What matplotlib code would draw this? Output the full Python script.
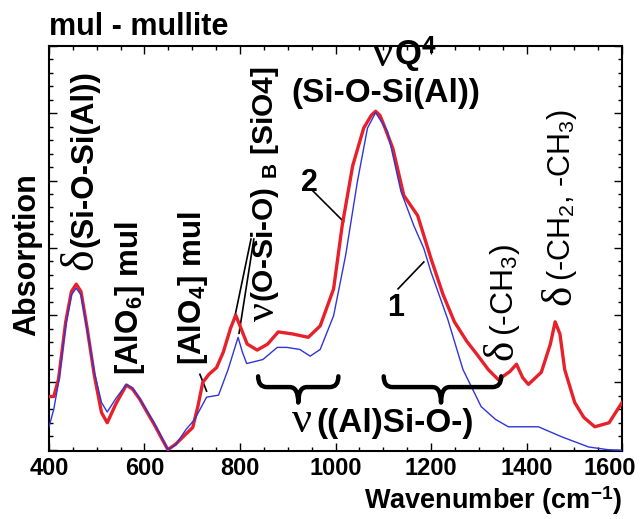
import numpy as np
import matplotlib
matplotlib.use("Agg")
import matplotlib.pyplot as plt
import matplotlib.transforms as mtransforms
from matplotlib.path import Path
from matplotlib.patches import PathPatch
from matplotlib.ticker import MultipleLocator, NullFormatter

plt.rcParams['font.family'] = ['Liberation Sans', 'DejaVu Sans']
plt.rcParams['mathtext.fontset'] = 'custom'
plt.rcParams['mathtext.rm'] = 'Liberation Sans:bold'
plt.rcParams['mathtext.bf'] = 'Liberation Sans:bold'
plt.rcParams['mathtext.it'] = 'Liberation Serif'
plt.rcParams['mathtext.sf'] = 'Liberation Sans'

# ---- data (wavenumber, absorption, arbitrary units) ----
wn_red = [400, 410, 420, 435, 447, 457, 467, 480, 495, 510, 522, 540, 562, 575, 590,
          606, 620, 635, 649, 665, 685, 701, 712, 722, 735, 751, 765, 780, 791, 800,
          815, 836, 858, 880, 910, 943, 968, 996, 1014, 1036, 1059, 1075, 1084, 1093, 1100, 1120,
          1143, 1172, 1200, 1225, 1249, 1275, 1299, 1320, 1341, 1365, 1379, 1392, 1404,
          1431, 1450, 1460, 1470, 1480, 1501, 1520, 1543, 1573, 1600]
abs_red = [0.79, 0.79, 1.05, 1.90, 2.35, 2.46, 2.35, 1.80, 1.10, 0.55, 0.40, 0.68, 0.96, 0.90, 0.75,
           0.55, 0.38, 0.18, 0.00, 0.08, 0.22, 0.33, 0.65, 1.00, 1.12, 1.22, 1.45, 1.80, 2.00, 1.84,
           1.57, 1.48, 1.57, 1.75, 1.72, 1.67, 1.84, 2.39, 3.33, 4.22, 4.78, 4.97, 5.03, 4.97, 4.85, 4.48,
           3.78, 3.48, 2.84, 2.31, 1.90, 1.61, 1.39, 1.19, 1.04, 1.16, 1.27, 1.07, 0.97,
           1.15, 1.57, 1.90, 1.72, 1.19, 0.70, 0.48, 0.34, 0.40, 0.70]

wn_blue = [400, 410, 420, 435, 447, 457, 467, 480, 495, 510, 522, 540, 562, 575, 590,
           606, 620, 635, 649, 665, 687, 705, 730, 755, 775, 796, 805, 814, 848, 878,
           898, 925, 947, 968, 996, 1021, 1046, 1067, 1084, 1109, 1137, 1164, 1185, 1200,
           1235, 1267, 1305, 1335, 1362, 1425, 1474, 1530, 1570, 1600]
abs_blue = [0.34, 0.60, 1.00, 1.85, 2.30, 2.40, 2.30, 1.78, 1.15, 0.70, 0.56, 0.76, 0.97, 0.92, 0.76,
            0.57, 0.40, 0.20, 0.00, 0.07, 0.30, 0.45, 0.78, 0.81, 1.19, 1.67, 1.45, 1.28, 1.34, 1.52,
            1.52, 1.49, 1.39, 1.49, 1.99, 2.88, 3.99, 4.78, 5.01, 4.73, 3.84, 3.33, 2.99, 2.64,
            1.94, 1.19, 0.64, 0.45, 0.34, 0.34, 0.19, 0.04, 0.00, -0.01]

x_ticks = [400, 600, 800, 1000, 1200, 1400, 1600]
RED = '#e8202a'
BLUE = '#2f35d8'

fig = plt.figure(figsize=(6.4, 5.19), dpi=100)
ax = fig.add_axes([49/640, 1-451/519, 573/640, 405/519])

ax.plot(wn_red, abs_red, color=RED, lw=2.4, solid_joinstyle='round', zorder=3)
ax.plot(wn_blue, abs_blue, color=BLUE, lw=1.0, zorder=4)

ax.set_xlim(400, 1600)
ax.set_ylim(-0.02, 6.0)
ax.set_xticks(x_ticks)
ax.set_xticklabels([str(t) for t in x_ticks], fontsize=17, fontweight='bold')
ax.xaxis.set_minor_locator(MultipleLocator(50))
ax.yaxis.set_major_locator(MultipleLocator(1))
ax.yaxis.set_minor_locator(MultipleLocator(0.2))
ax.yaxis.set_major_formatter(NullFormatter())
ax.tick_params(which='both', direction='in', top=True, right=True, width=1.0)
ax.tick_params(which='major', length=6, pad=4)
ax.tick_params(which='minor', length=3)
for s in ax.spines.values():
    s.set_linewidth(1.5)
# last tick label sits a little inside the figure edge
last = ax.get_xticklabels()[-1]
last.set_transform(last.get_transform() +
                   mtransforms.ScaledTranslation(-12/100, 0, fig.dpi_scale_trans))

ax.set_ylabel('Absorption', fontsize=22, fontweight='bold')
ax.yaxis.set_label_coords(-0.011, 0.484)
ax.text(1.0, -0.142, r'Wavenumber (cm$^{\mathbf{-1}}$)', transform=ax.transAxes,
        ha='right', va='baseline', fontsize=19.5, fontweight='bold')
ax.text(0.0, 1.027, 'mul - mullite', transform=ax.transAxes, ha='left', va='baseline',
        fontsize=22, fontweight='bold')

renderer = fig.canvas.get_renderer()


def rot_label(x, y, sym, rest, sym_size, rest_size, weight, gap=2, dx=0):
    t = ax.text(x, y, sym, rotation=90, ha='center', va='bottom', fontsize=sym_size,
                family='Liberation Serif')
    h = t.get_window_extent(renderer).height
    ax.annotate(rest, xy=(x, y), xytext=(dx, h + gap), textcoords='offset pixels',
                rotation=90, ha='center', va='bottom', fontsize=rest_size, fontweight=weight)


# rotated band labels
rot_label(467, 2.67, 'δ', '(Si-O-Si(Al))', 33, 22.5, 'bold', gap=1, dx=4)
ax.text(570, 1.11, r'[AlO$_\mathbf{6}$] mul', rotation=90, ha='center', va='bottom',
        fontsize=22.5, fontweight='bold')
ax.text(702, 1.26, r'[AlO$_\mathbf{4}$] mul', rotation=90, ha='center', va='bottom',
        fontsize=22.5, fontweight='bold')
rot_label(849, 1.91, 'ν', r'(O-Si-O) $_\mathbf{B}$ [SiO4]', 30, 21.5, 'bold', gap=0, dx=2)
rot_label(1350, 1.33, 'δ', r'(-CH$_{\mathsf{3}}$)', 31, 23, 'normal', gap=4, dx=2)
rot_label(1470, 2.15, 'δ', r'(-CH$_{\mathsf{2}}$, -CH$_{\mathsf{3}}$)', 31, 22, 'normal',
          gap=4, dx=2)

# top peak labels
ax.text(1122, 5.70, 'ν', ha='right', va='baseline', fontsize=34, family='Liberation Serif')
ax.text(1122, 5.70, r'Q$^{\mathbf{4}}$', ha='left', va='baseline', fontsize=25,
        fontweight='bold')
ax.text(1105, 5.30, '(Si-O-Si(Al))', ha='center', va='center', fontsize=24,
        fontweight='bold')

# curve numbers with leader lines
ax.text(946, 3.97, '2', ha='center', va='center', fontsize=22, fontweight='bold')
ax.plot([952, 1017], [3.85, 3.39], color='k', lw=1.2)
ax.text(1126, 2.10, '1', ha='center', va='center', fontsize=22, fontweight='bold')
ax.plot([1131, 1185], [2.39, 2.79], color='k', lw=1.2)

# leader lines from nu(O-Si-O) label
ax.plot([823, 789], [3.13, 1.97], color='k', lw=1.2)
ax.plot([829, 798], [3.13, 1.73], color='k', lw=1.2)
# leader line from [AlO4]
ax.plot([716, 730], [1.12, 0.87], color='k', lw=1.2)


def brace(x0, x1, xm, ytop, ybar, ytip, r):
    verts = [(x0, ytop), (x0, ybar), (x0 + r, ybar), (xm - r, ybar), (xm, ybar), (xm, ytip),
             (xm, ybar), (xm + r, ybar), (x1 - r, ybar), (x1, ybar), (x1, ytop)]
    codes = [Path.MOVETO, Path.CURVE3, Path.CURVE3, Path.LINETO, Path.CURVE3, Path.CURVE3,
             Path.CURVE3, Path.CURVE3, Path.LINETO, Path.CURVE3, Path.CURVE3]
    ax.add_patch(PathPatch(Path(verts, codes), fill=False, lw=3.2, ec='k',
                           capstyle='round', joinstyle='round', zorder=5))


brace(838, 1006, 922, 1.09, 0.93, 0.70, 18)
brace(1101, 1347, 1221, 1.09, 0.93, 0.70, 18)
ax.text(950, 0.26, 'ν', ha='right', va='baseline', fontsize=32, family='Liberation Serif')
ax.text(960, 0.26, '((Al)Si-O-)', ha='left', va='baseline', fontsize=24,
        fontweight='bold')

fig.savefig('out.png', dpi=100)
